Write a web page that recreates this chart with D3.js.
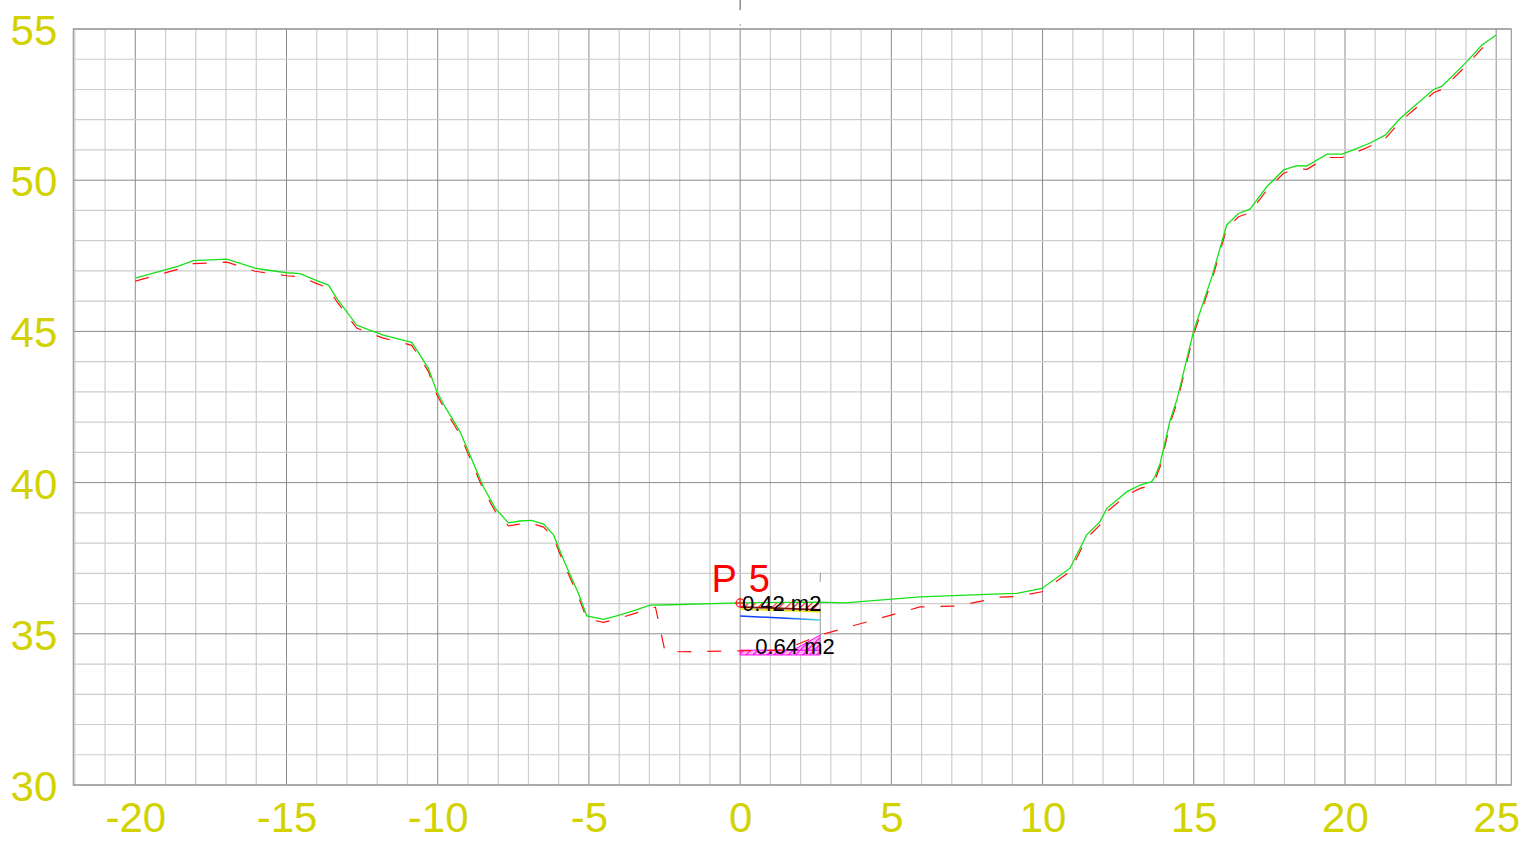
<!DOCTYPE html>
<html>
<head>
<meta charset="utf-8">
<script src="https://cdn.jsdelivr.net/npm/d3@7"></script>
<style>
  body { margin: 0; background: #fff; }
  svg { display: block; }
  text { font-family: "Liberation Sans", Arial, sans-serif; }
</style>
</head>
<body>
<svg width="1531" height="842"></svg>
<script>
// profile P 5 - stations (m) and elevations (m)
var groundPts = [
  [-20, 46.76], [-18.57, 47.16], [-18.08, 47.34], [-16.97, 47.39], [-16.04, 47.09],
  [-15.65, 47.03], [-14.99, 46.94], [-14.55, 46.91], [-14.0, 46.68], [-13.61, 46.53],
  [-13.34, 46.09], [-12.68, 45.21], [-12.40, 45.10], [-11.80, 44.88], [-10.86, 44.64],
  [-10.69, 44.38], [-10.31, 43.78], [-10.03, 43.01], [-9.76, 42.51], [-9.26, 41.68],
  [-8.82, 40.64], [-8.49, 39.86], [-8.10, 39.15], [-7.66, 38.67], [-7.28, 38.73],
  [-6.89, 38.75], [-6.50, 38.63], [-6.17, 38.27], [-5.79, 37.33], [-5.35, 36.34],
  [-5.07, 35.59], [-4.52, 35.48], [-4.08, 35.59], [-3.53, 35.76], [-2.98, 35.95],
  [-2.31, 35.96], [0, 36.02], [2.61, 36.05], [3.47, 36.02], [5.95, 36.22],
  [8.60, 36.32], [9.15, 36.34], [9.98, 36.50], [10.91, 37.17], [11.46, 38.27],
  [11.90, 38.71], [12.13, 39.15], [12.79, 39.70], [13.23, 39.92], [13.61, 40.03],
  [13.72, 40.20], [13.89, 40.64], [14.22, 42.07], [14.44, 42.73], [14.99, 44.99],
  [15.60, 46.81], [16.09, 48.52], [16.48, 48.90], [16.86, 49.04], [17.42, 49.79],
  [17.97, 50.34], [18.41, 50.48], [18.74, 50.47], [19.40, 50.86], [19.90, 50.86],
  [20.28, 51.00], [20.83, 51.23], [21.33, 51.49], [21.83, 52.05], [22.27, 52.43],
  [22.93, 53.00], [23.21, 53.11], [24.03, 53.92], [24.53, 54.47], [25.0, 54.80]
];

// design / old line (red dashed) incl. trench
var designPts = [
  [-20, 46.66], [-18.57, 47.06], [-18.08, 47.24], [-16.97, 47.29], [-16.04, 46.99],
  [-15.65, 46.93], [-14.99, 46.84], [-14.55, 46.81], [-14.0, 46.58], [-13.61, 46.43],
  [-13.34, 45.99], [-12.68, 45.11], [-12.40, 45.00], [-11.80, 44.78], [-10.86, 44.54],
  [-10.69, 44.28], [-10.31, 43.68], [-10.03, 42.91], [-9.76, 42.41], [-9.26, 41.58],
  [-8.82, 40.54], [-8.49, 39.76], [-8.10, 39.05], [-7.66, 38.57], [-7.28, 38.63],
  [-6.89, 38.65], [-6.50, 38.53], [-6.17, 38.17], [-5.79, 37.23], [-5.35, 36.24],
  [-5.07, 35.49], [-4.52, 35.38], [-4.08, 35.49], [-3.53, 35.66], [-2.80, 35.88],
  [-2.48, 34.40], [1.42, 34.46], [2.65, 34.96], [5.95, 35.89], [7.20, 35.92],
  [8.60, 36.21], [9.15, 36.23], [9.98, 36.39], [10.91, 37.06], [11.46, 38.16],
  [11.90, 38.60], [12.13, 39.04], [12.79, 39.59], [13.23, 39.81], [13.61, 39.92],
  [13.72, 40.09], [13.89, 40.53], [14.22, 41.96], [14.44, 42.62], [14.99, 44.88],
  [15.60, 46.70], [16.09, 48.41], [16.48, 48.79], [16.86, 48.93], [17.42, 49.68],
  [17.97, 50.23], [18.41, 50.37], [18.74, 50.36], [19.40, 50.75], [19.90, 50.75],
  [20.28, 50.89], [20.83, 51.12], [21.33, 51.38], [21.83, 51.94], [22.27, 52.32],
  [22.93, 52.89], [23.21, 53.00], [24.03, 53.81], [24.53, 54.36], [25.0, 54.69]
];

var xTicks = [-20, -15, -10, -5, 0, 5, 10, 15, 20, 25];
var yTicks = [30, 35, 40, 45, 50, 55];

var profileName = "P 5";
var profileStation = 0;
var areaEnd = 2.65;

// cut area (top, red hatch) and fill area (bottom, magenta hatch)
var cutPoly = [[0, 36.02], [2.61, 36.05], [2.65, 35.79], [0, 35.89]];
var cutBase = [[0, 35.89], [2.65, 35.79]];
var yellowLine = [[0, 35.82], [2.65, 35.73]];
var blueLine = [[0, 35.59], [2.65, 35.46]];
var fillBand = [[0, 34.46], [2.65, 34.46], [2.65, 34.30], [0, 34.30]];
var fillTri = [[1.75, 34.46], [2.65, 34.96], [2.65, 34.46]];
var areaLabels = ["0.42 m2", "0.64 m2"];

var svg = d3.select("svg");
var mLeft = 73.3, mRight = 1511.3, mTop = 29, mBottom = 785;

var x = d3.scaleLinear().domain([-22.05, 25.5]).range([mLeft, mRight]);
var y = d3.scaleLinear().domain([30, 55]).range([mBottom, mTop]);

var defs = svg.append("defs");
function hatch(id, col, bg) {
  var p = defs.append("pattern").attr("id", id)
    .attr("patternUnits", "userSpaceOnUse").attr("width", 5).attr("height", 5)
    .attr("patternTransform", "rotate(45)");
  p.append("rect").attr("width", 5).attr("height", 5).attr("fill", bg);
  p.append("line").attr("x1", 0).attr("y1", 0).attr("x2", 0).attr("y2", 5)
    .attr("stroke", col).attr("stroke-width", 2.4);
}
hatch("hRed", "#ff2020", "#ffffff");
hatch("hMag", "#ff00ff", "#ffb8ec");

var grad = defs.append("linearGradient").attr("id", "gBlue")
  .attr("x1", "0%").attr("x2", "100%");
grad.append("stop").attr("offset", "55%").attr("stop-color", "#1040ff");
grad.append("stop").attr("offset", "100%").attr("stop-color", "#40e0e0");

// grid
var grid = svg.append("g");
d3.range(-22, 26).forEach(function(v) {
  grid.append("line")
    .attr("x1", x(v)).attr("x2", x(v)).attr("y1", mTop).attr("y2", mBottom)
    .attr("stroke", v % 5 === 0 ? "#8c8c8c" : "#cdcdcd").attr("stroke-width", v % 5 === 0 ? 1 : 1.2);
});
d3.range(30, 56).forEach(function(v) {
  grid.append("line")
    .attr("x1", mLeft).attr("x2", mRight).attr("y1", y(v)).attr("y2", y(v))
    .attr("stroke", v % 5 === 0 ? "#8c8c8c" : "#cdcdcd").attr("stroke-width", v % 5 === 0 ? 1 : 1.2);
});
grid.append("rect")
  .attr("x", mLeft).attr("y", mTop).attr("width", mRight - mLeft).attr("height", mBottom - mTop)
  .attr("fill", "none").attr("stroke", "#999").attr("stroke-width", 1.2);

// axis line above the frame
svg.append("line").attr("x1", x(0)).attr("x2", x(0)).attr("y1", 0).attr("y2", 10)
  .attr("stroke", "#555").attr("stroke-width", 1);
svg.append("rect").attr("x", x(0) - 0.5).attr("y", 24.5).attr("width", 1.2).attr("height", 1.2)
  .attr("fill", "#777");

// axes labels
var xAxis = svg.append("g").attr("transform", "translate(0," + mBottom + ")")
  .call(d3.axisBottom(x).tickValues(xTicks).tickSize(0).tickPadding(17)
    .tickFormat(function(d) { return String(d); }));
var yAxis = svg.append("g").attr("transform", "translate(" + mLeft + ",0)")
  .call(d3.axisLeft(y).tickValues(yTicks).tickSize(0).tickPadding(16)
    .tickFormat(function(d) { return String(d); }));
[xAxis, yAxis].forEach(function(a) {
  a.select(".domain").remove();
  a.selectAll("text").attr("fill", "#d2d200")
    .style("font-size", "42px").style("font-family", "'Liberation Sans', Arial, sans-serif");
});
yAxis.selectAll("text").attr("dy", "0.37em");

var line = d3.line().x(function(d) { return x(d[0]); }).y(function(d) { return y(d[1]); });
var poly = function(pts) { return line(pts) + "Z"; };

// area fills
svg.append("path").attr("d", poly(cutPoly)).attr("fill", "url(#hRed)");
svg.append("path").attr("d", poly(fillBand)).attr("fill", "url(#hMag)")
  .attr("stroke", "#ff00ff").attr("stroke-width", 1);
svg.append("path").attr("d", poly(fillTri)).attr("fill", "url(#hMag)")
  .attr("stroke", "#ff00ff").attr("stroke-width", 1);

// station vertical
var vg = svg.append("g").attr("stroke", "#999").attr("stroke-width", 1);
vg.append("line").attr("x1", x(areaEnd)).attr("x2", x(areaEnd)).attr("y1", y(37.02)).attr("y2", y(36.72));
vg.append("line").attr("x1", x(areaEnd)).attr("x2", x(areaEnd)).attr("y1", y(36.12)).attr("y2", y(34.30));

svg.append("path").attr("d", line(yellowLine)).attr("fill", "none")
  .attr("stroke", "#e0e000").attr("stroke-width", 1.6);
svg.append("path").attr("d", line(cutBase)).attr("fill", "none")
  .attr("stroke", "#8b1010").attr("stroke-width", 1.8);
svg.append("path").attr("d", line(blueLine)).attr("fill", "none")
  .attr("stroke", "url(#gBlue)").attr("stroke-width", 1.5);

// profiles
svg.append("path").attr("d", line(designPts)).attr("fill", "none")
  .attr("stroke", "#ff1010").attr("stroke-width", 1.2).attr("stroke-dasharray", "14,16");
svg.append("path").attr("d", line(groundPts)).attr("fill", "none")
  .attr("stroke", "#18e018").attr("stroke-width", 1.3);

// station marker
var mk = svg.append("g").attr("stroke", "#ff2020").attr("fill", "none").attr("stroke-width", 1.2);
mk.append("circle").attr("cx", x(profileStation)).attr("cy", y(36.02)).attr("r", 4);
mk.append("line").attr("x1", x(profileStation) - 5).attr("x2", x(profileStation) + 5)
  .attr("y1", y(36.02)).attr("y2", y(36.02));
mk.append("line").attr("x1", x(profileStation)).attr("x2", x(profileStation))
  .attr("y1", y(36.02) - 5).attr("y2", y(36.02) + 5);

svg.append("text").attr("x", x(profileStation) + 1).attr("y", y(36.38))
  .attr("text-anchor", "middle").attr("fill", "#ff0000")
  .style("font-size", "38px").style("letter-spacing", "1px").text(profileName);

svg.append("text").attr("x", x(0.06)).attr("y", y(35.75))
  .attr("fill", "#000").style("font-size", "22px").text(areaLabels[0]);
svg.append("text").attr("x", x(0.5)).attr("y", y(34.33))
  .attr("fill", "#000").style("font-size", "22px").text(areaLabels[1]);
</script>
</body>
</html>
